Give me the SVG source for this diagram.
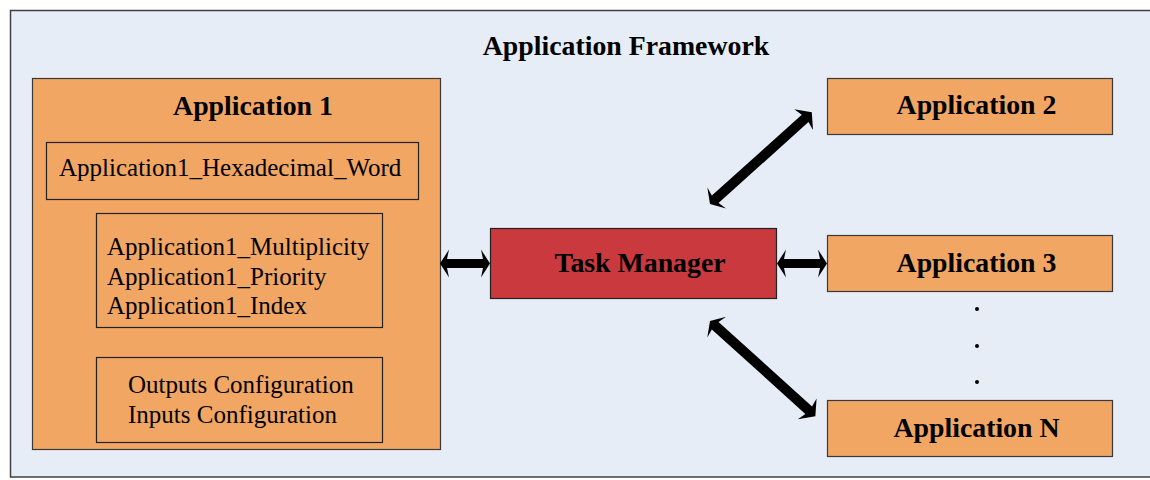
<svg xmlns="http://www.w3.org/2000/svg" width="1150" height="480" viewBox="0 0 1150 480">
<style>
.frame{fill:#e6edf7;stroke:#404040;stroke-width:1.5}
.app{fill:#f2a664;stroke:#3a3a3a;stroke-width:1.2}
.inner{fill:#f2a664;stroke:#222;stroke-width:1.2}
.tm{fill:#c9393e;stroke:#222;stroke-width:1.2}
.b{font-family:"Liberation Serif","Times New Roman",serif;font-weight:bold;font-size:27.8px;fill:#000}
.r{font-family:"Liberation Serif","Times New Roman",serif;font-size:25px;fill:#000}
.arr{fill:#000}
</style>
<rect x="10.5" y="10.5" width="1150" height="466.5" class="frame"/>
<text x="626" y="55" text-anchor="middle" class="b">Application Framework</text>

<g id="app1">
<rect x="32.5" y="78.5" width="408" height="371" class="app"/>
<text x="253" y="115" text-anchor="middle" class="b">Application 1</text>
<rect x="46.5" y="142.5" width="372" height="57" class="inner"/>
<text x="59" y="176" class="r">Application1_Hexadecimal_Word</text>
<rect x="96.5" y="213.5" width="286" height="114" class="inner"/>
<text x="107" y="255" class="r">Application1_Multiplicity</text>
<text x="107" y="285" class="r">Application1_Priority</text>
<text x="107" y="314" class="r">Application1_Index</text>
<rect x="96.5" y="357.5" width="286" height="85" class="inner"/>
<text x="128" y="393" class="r">Outputs Configuration</text>
<text x="128" y="423" class="r">Inputs Configuration</text>
</g>

<g id="task-manager">
<rect x="490.5" y="228.5" width="286" height="70" class="tm"/>
<text x="640" y="272" text-anchor="middle" class="b">Task Manager</text>
</g>

<g id="app2">
<rect x="827.5" y="78.5" width="285" height="56" class="app"/>
<text x="976.5" y="114" text-anchor="middle" class="b">Application 2</text>
</g>
<g id="app3">
<rect x="827.5" y="235.5" width="285" height="56" class="app"/>
<text x="976.5" y="272" text-anchor="middle" class="b">Application 3</text>
</g>
<g id="appN">
<rect x="827.5" y="400.5" width="285" height="56" class="app"/>
<text x="976.5" y="437" text-anchor="middle" class="b">Application N</text>
</g>

<g id="dots" fill="#000">
<circle cx="977" cy="309" r="2"/>
<circle cx="977" cy="346" r="2"/>
<circle cx="977" cy="382" r="2"/>
</g>

<g id="connectors" class="arr">
<path transform="translate(440,263.5)" d="M0,0 L9,-14 L7,-4.5 L43,-4.5 L41,-14 L50,0 L41,14 L43,4.5 L7,4.5 L9,14 Z"/>
<path transform="translate(777,263.5)" d="M0,0 L9,-14 L7,-4.5 L43,-4.5 L41,-14 L50,0 L41,14 L43,4.5 L7,4.5 L9,14 Z"/>
<path transform="translate(710,204) rotate(-42)" d="M0,0 L9,-14 L7,-5 L128,-5 L126,-14 L137,0 L126,14 L128,5 L7,5 L9,14 Z"/>
<path transform="translate(710,321) rotate(42.1)" d="M0,0 L9,-14 L7,-5 L133,-5 L131,-14 L142,0 L131,14 L133,5 L7,5 L9,14 Z"/>
</g>
</svg>
